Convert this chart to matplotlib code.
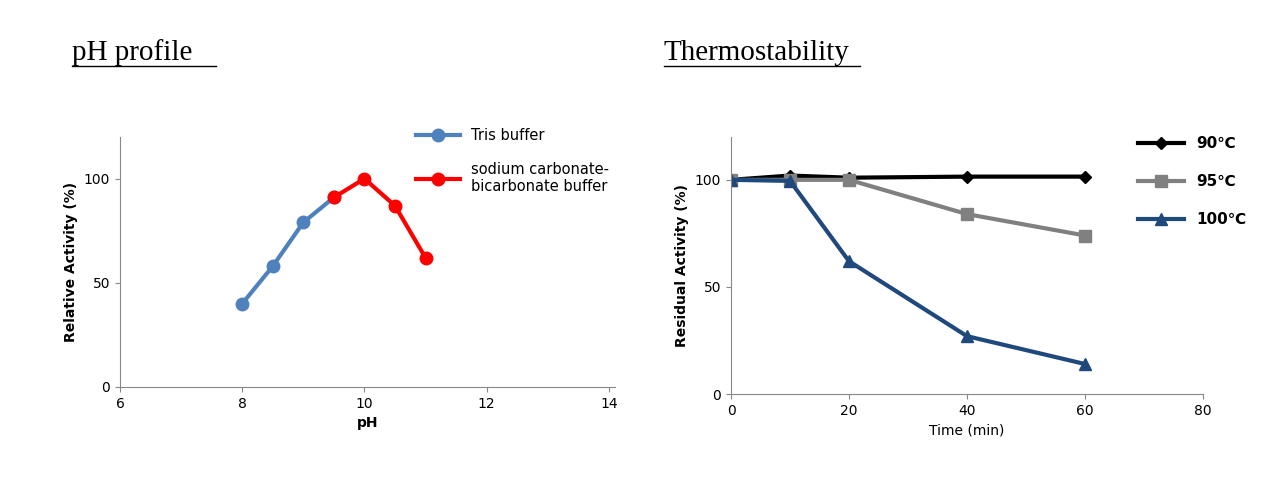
import matplotlib
matplotlib.use("Agg")
import matplotlib.pyplot as plt

ph_tris = [8, 8.5, 9, 9.5]
act_tris = [40, 58, 79, 91]
ph_carb = [9.5, 10, 10.5, 11]
act_carb = [91, 100, 87, 62]

time = [0, 10, 20, 40, 60]
res_90 = [100, 102, 101, 101.5, 101.5]
res_95 = [100, 100, 100, 84, 74]
res_100 = [100, 99.5, 62, 27, 14]

plt.rcParams['font.family'] = ['DejaVu Sans']
fig = plt.figure(figsize=(12.8, 4.82), dpi=100)

def style(ax):
    for s in ['top', 'right']:
        ax.spines[s].set_visible(False)
    for s in ['left', 'bottom']:
        ax.spines[s].set_color('#888888')
    ax.tick_params(colors='#888888', labelcolor='black', labelsize=10)

ax1 = fig.add_axes([120/1280, 1-387/482, 495/1280, 250/482])
h1, = ax1.plot(ph_tris, act_tris, '-o', color='#4f81bd', lw=3, ms=9)
h2, = ax1.plot(ph_carb, act_carb, '-o', color='#ff0000', lw=3, ms=9)
ax1.set_xlim(6, 14.1)
ax1.set_ylim(0, 120)
ax1.set_xticks([6, 8, 10, 12, 14])
ax1.set_yticks([0, 50, 100])
ax1.set_xlabel('pH', fontweight='bold', fontsize=10)
ax1.set_ylabel('Relative Activity (%)', fontweight='bold', fontsize=10)
style(ax1)
fig.legend([h1, h2], ['Tris buffer', 'sodium carbonate-\nbicarbonate buffer'],
           loc='upper left', bbox_to_anchor=(410/1280, 1-122/482), frameon=False,
           fontsize=10.5, handlelength=3, labelspacing=1.3, borderaxespad=0)

ax2 = fig.add_axes([731/1280, 1-394/482, 472/1280, 257/482])
g1, = ax2.plot(time, res_90, '-D', color='black', lw=3, ms=6)
g2, = ax2.plot(time, res_95, '-s', color='#808080', lw=3, ms=9)
g3, = ax2.plot(time, res_100, '-^', color='#1f497d', lw=3, ms=9)
ax2.set_xlim(0, 80)
ax2.set_ylim(0, 120)
ax2.set_xticks([0, 20, 40, 60, 80])
ax2.set_yticks([0, 50, 100])
ax2.set_xlabel('Time (min)', fontsize=10)
ax2.set_ylabel('Residual Activity (%)', fontweight='bold', fontsize=10)
style(ax2)
leg = fig.legend([g1, g2, g3], ['90\u2103', '95\u2103', '100\u2103'],
                 loc='upper left', bbox_to_anchor=(1132/1280, 1-130/482), frameon=False,
                 fontsize=11, handlelength=3, labelspacing=1.5, borderaxespad=0)
for t in leg.get_texts():
    t.set_fontweight('bold')

fig.text(72/1280, 1-60/482, 'pH profile', fontsize=21, family='Liberation Serif')
fig.text(664/1280, 1-60/482, 'Thermostability', fontsize=21, family='Liberation Serif')
fig.add_artist(plt.Line2D([72/1280, 216/1280], [1-66/482]*2, color='black', lw=1))
fig.add_artist(plt.Line2D([664/1280, 860/1280], [1-66/482]*2, color='black', lw=1))

fig.savefig('out.png', dpi=100)
